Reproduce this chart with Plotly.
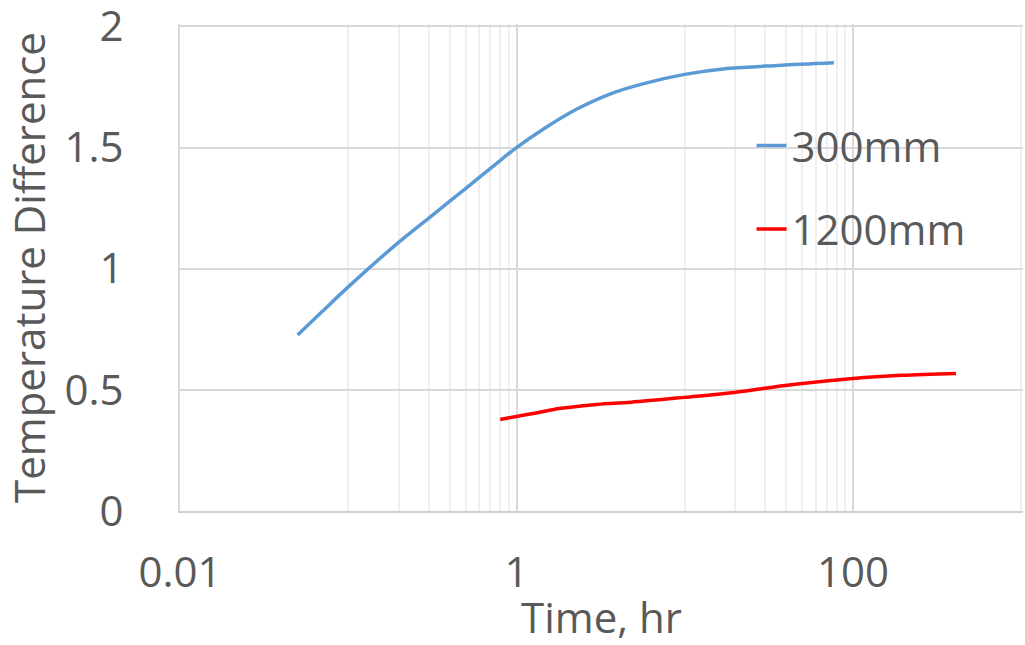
import plotly.graph_objects as go

# ---- data ----
time_300 = [0.05, 0.07, 0.1, 0.2, 0.3, 0.4, 0.5, 0.7, 1, 1.455, 2.3, 3.62, 5.7, 10, 17.9, 35.5, 77]
temp_300 = [0.726, 0.823, 0.925, 1.11, 1.208, 1.278, 1.332, 1.414, 1.50, 1.578, 1.66, 1.722, 1.764, 1.802, 1.826, 1.839, 1.85]

time_1200 = [0.8, 1.2, 1.84, 3, 4.8, 10, 19.6, 44, 100, 194, 409]
temp_1200 = [0.378, 0.40, 0.424, 0.44, 0.449, 0.469, 0.489, 0.522, 0.547, 0.56, 0.568]

x_tickvals = [0.01, 1, 100]
x_ticktext = ["0.01", "1", "100"]
x_minor_vals = [0.1, 0.2, 0.3, 0.4, 0.5, 0.6, 0.7, 0.8, 0.9,
                10, 20, 30, 40, 50, 60, 70, 80, 90, 1000]
y_tickvals = [0, 0.5, 1, 1.5, 2]
y_ticktext = ["0", "0.5", "1", "1.5", "2"]

FONT = "Open Sans"
TXT = "#595959"
FS = 42

fig = go.Figure()
fig.add_trace(go.Scatter(x=time_300, y=temp_300, mode="lines", name="300mm",
                         line=dict(color="#5B9BD5", width=3.5, shape="spline"),
                         legendgroup="a"))
fig.add_trace(go.Scatter(x=time_1200, y=temp_1200, mode="lines", name="1200mm",
                         line=dict(color="#FF0000", width=3.5, shape="spline"),
                         legendgroup="b"))

fig.update_layout(
    width=1025, height=645,
    margin=dict(l=180, r=2, t=24, b=134, autoexpand=False),
    paper_bgcolor="white", plot_bgcolor="white",
    font=dict(family=FONT, size=FS, color=TXT),
    showlegend=True,
    legend=dict(x=0.678, y=0.82, xanchor="left", yanchor="top",
                bgcolor="rgba(0,0,0,0)", font=dict(size=FS, color=TXT),
                tracegroupgap=26, traceorder="grouped"),
    xaxis=dict(type="log", range=[-2, 3.01], automargin=False,
               tickmode="array", tickvals=x_tickvals, ticktext=x_ticktext,
               showgrid=True, gridcolor="#d9d9d9", gridwidth=1.5,
               minor=dict(tickmode="array", tickvals=x_minor_vals,
                          showgrid=True, gridcolor="#efefef", gridwidth=1.5, ticks=""),
               showline=True, linecolor="#d0d0d0", linewidth=2,
               ticks="", ticklabelstandoff=24, ticklabeloverflow="allow",
               title=dict(text="Time, hr", font=dict(size=FS, color=TXT), standoff=16),
               zeroline=False),
    yaxis=dict(range=[0, 2.01], automargin=False,
               tickmode="array", tickvals=y_tickvals, ticktext=y_ticktext,
               showgrid=True, gridcolor="#d9d9d9", gridwidth=1.5,
               showline=True, linecolor="#d9d9d9", linewidth=2,
               ticks="", ticklabelstandoff=46, ticklabeloverflow="allow",
               title=dict(text="Temperature Difference", font=dict(size=FS, color=TXT), standoff=12),
               zeroline=False),
)

fig.write_html("out.html")
